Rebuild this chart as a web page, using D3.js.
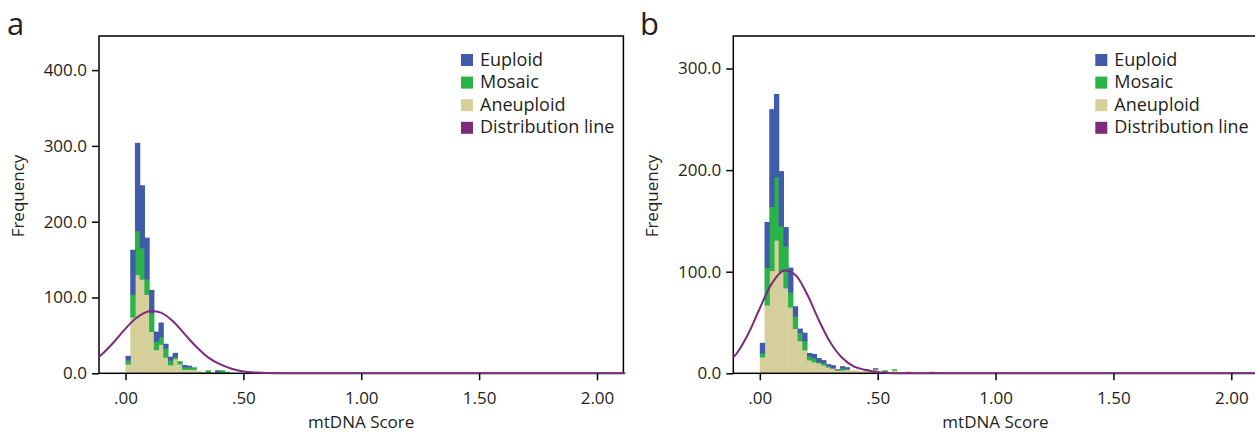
<!DOCTYPE html>
<html lang="en">
<head>
    <meta charset="UTF-8">
    <title>mtDNA Score histograms</title>
    <script src="https://cdn.jsdelivr.net/npm/d3@7"></script>
    <style>
        html,
        body {
            margin: 0;
            background: #fff;
        }
        text {
            font-family: "Open Sans", "DejaVu Sans", sans-serif;
            fill: #231f20;
        }
    </style>
</head>
<body>
<svg id="container"></svg>
<script>
    // bin width of both histograms
    const binWidth = 0.02;

    const seriesNames = ['Euploid', 'Mosaic', 'Aneuploid', 'Distribution line'];
    const seriesColors = ['#3f5ba9', '#2bb34a', '#d5cf9b', '#7b2a7d'];

    const xTickValues = [0, 0.5, 1, 1.5, 2];
    const xTickLabels = ['.00', '.50', '1.00', '1.50', '2.00'];

    // panel a : bin left edges and counts per group
    const aBins      = [0.00, 0.02, 0.04, 0.06, 0.08, 0.10, 0.12, 0.14, 0.16, 0.18, 0.20, 0.22, 0.24, 0.26, 0.28, 0.30, 0.32, 0.34, 0.36, 0.38, 0.40, 0.42, 0.56, 0.64];
    const aEuploid   = [6, 59, 116, 83, 55, 31, 13, 19, 6, 5, 5, 0, 3, 2, 0, 0, 0, 0, 0, 2, 0, 0, 0, 1];
    const aMosaic    = [5, 30, 58, 41, 20, 24, 11, 10, 12, 6, 3, 4, 3, 3, 3, 0, 0, 3, 0, 1, 3, 1, 2, 0];
    const aAneuploid = [12, 74, 130, 124, 104, 55, 31, 38, 21, 11, 19, 12, 5, 5, 5, 3, 2, 1, 1, 1, 1, 1, 0, 0];
    const aYTicks = [0, 100, 200, 300, 400];
    const aYLabels = ['0.0', '100.0', '200.0', '300.0', '400.0'];
    const aYMax = 445;

    // panel b
    const bBins      = [0.00, 0.02, 0.04, 0.06, 0.08, 0.10, 0.12, 0.14, 0.16, 0.18, 0.20, 0.22, 0.24, 0.26, 0.28, 0.30, 0.32, 0.34, 0.36, 0.38, 0.40, 0.42, 0.44, 0.46, 0.48, 0.52, 0.56, 0.62, 0.72];
    const bEuploid   = [10, 45, 96, 82, 54, 19, 24, 10, 4, 8, 3, 4, 4, 3, 2, 3, 1, 2, 2, 0, 0, 0, 1, 0, 1, 0, 0, 0, 0];
    const bMosaic    = [4, 37, 63, 62, 45, 41, 15, 12, 8, 9, 4, 4, 1, 2, 1, 0, 0, 2, 0, 0, 0, 0, 0, 0, 0, 3, 1, 0, 0];
    const bAneuploid = [16, 67, 101, 131, 100, 84, 65, 44, 32, 23, 13, 11, 10, 8, 6, 5, 3, 3, 4, 3, 3, 2, 3, 2, 4, 0, 3, 2, 2];
    const bYTicks = [0, 100, 200, 300];
    const bYLabels = ['0.0', '100.0', '200.0', '300.0'];
    const bYMax = 332;

    // distribution lines
    const curveX = [-0.1125, -0.10, -0.05, 0.00, 0.05, 0.10, 0.15, 0.20, 0.25, 0.30, 0.35, 0.40, 0.45, 0.50, 0.55, 0.60, 0.70, 0.80, 2.12];
    const aCurve = [22, 25, 41, 59, 74, 82, 80, 69, 52, 35, 21, 12, 6, 2.5, 1, 0.4, 0, 0, 0];
    const bCurve = [16, 19, 38.5, 64, 88, 101, 97, 78, 52.5, 30, 15, 6.5, 3.3, 1.2, 0.4, 0.1, 0, 0, 0];

    const width = 1255, height = 434;
    const svg = d3.select('#container')
        .attr('width', width)
        .attr('height', height);

    const plotTop = 36, plotBottom = 373.3;
    const xDomain = [-0.1125, 2.112];

    function drawPanel(opt) {
        const x = d3.scaleLinear().domain(xDomain).range([opt.left, opt.left + 524.4]);
        const y = d3.scaleLinear().domain([0, opt.yMax]).range([plotBottom, plotTop]);

        const table = opt.bins.map((b, i) => ({
            bin: b,
            Aneuploid: opt.aneuploid[i],
            Mosaic: opt.mosaic[i],
            Euploid: opt.euploid[i]
        }));
        const stack = d3.stack().keys(['Aneuploid', 'Mosaic', 'Euploid'])(table);
        const color = d3.scaleOrdinal().domain(seriesNames).range(seriesColors);

        const g = svg.append('g');

        // bars; a hair wider so neighbours don't show a seam
        g.selectAll('g.layer')
            .data(stack)
            .join('g')
            .attr('class', 'layer')
            .attr('fill', d => color(d.key))
            .selectAll('rect')
            .data(d => d.filter(s => s[1] > s[0]))
            .join('rect')
            .attr('x', d => x(d.data.bin))
            .attr('width', d => x(d.data.bin + binWidth) - x(d.data.bin) + 0.6)
            .attr('y', d => y(d[1]))
            .attr('height', d => y(d[0]) - y(d[1]) + 0.4);

        // frame
        g.append('rect')
            .attr('x', x(xDomain[0]))
            .attr('y', plotTop)
            .attr('width', x(xDomain[1]) - x(xDomain[0]))
            .attr('height', plotBottom - plotTop)
            .attr('fill', 'none')
            .attr('stroke', '#000')
            .attr('stroke-width', 1.5);

        // distribution line
        const line = d3.line()
            .x((d, i) => x(curveX[i]))
            .y(d => y(d))
            .curve(d3.curveCatmullRom.alpha(0.5));
        g.append('path')
            .datum(opt.curve)
            .attr('d', line)
            .attr('fill', 'none')
            .attr('stroke', color('Distribution line'))
            .attr('stroke-width', 2);

        const yAxis = d3.axisLeft(y)
            .tickValues(opt.yTicks)
            .tickFormat((d, i) => opt.yLabels[i])
            .tickSize(7)
            .tickSizeOuter(0)
            .tickPadding(5);
        const ya = g.append('g').attr('transform', `translate(${x(xDomain[0])},0)`).call(yAxis);
        ya.select('.domain').remove();

        const xAxis = d3.axisBottom(x)
            .tickValues(xTickValues)
            .tickFormat((d, i) => xTickLabels[i])
            .tickSize(7)
            .tickSizeOuter(0)
            .tickPadding(12);
        const xa = g.append('g').attr('transform', `translate(0,${plotBottom})`).call(xAxis);
        xa.select('.domain').remove();

        g.selectAll('.tick line').attr('stroke', '#000').attr('stroke-width', 1.5);
        g.selectAll('.tick text').attr('font-size', 17).attr('font-family', null).attr('fill', '#231f20');

        g.append('text')
            .attr('transform', `translate(${x(xDomain[0]) - 75},196) rotate(-90)`)
            .attr('text-anchor', 'middle')
            .attr('font-size', 17)
            .text('Frequency');

        g.append('text')
            .attr('x', (x(xDomain[0]) + x(xDomain[1])) / 2)
            .attr('y', 428)
            .attr('text-anchor', 'middle')
            .attr('font-size', 17)
            .text('mtDNA Score');

        g.append('text')
            .attr('x', opt.labelX)
            .attr('y', 35)
            .attr('font-size', 31)
            .text(opt.label);

        // legend
        const lg = g.append('g').attr('transform', `translate(${x(xDomain[0]) + 362},54)`);
        const rows = lg.selectAll('g')
            .data(seriesNames)
            .join('g')
            .attr('transform', (d, i) => `translate(0,${i * 22.6})`);
        rows.append('rect')
            .attr('width', 12)
            .attr('height', 12)
            .attr('fill', d => color(d));
        rows.append('text')
            .attr('x', 19)
            .attr('y', 11.5)
            .attr('font-size', 18)
            .text(d => d);
    }

    drawPanel({
        left: 99, label: 'a', labelX: 7,
        bins: aBins, euploid: aEuploid, mosaic: aMosaic, aneuploid: aAneuploid,
        curve: aCurve, yTicks: aYTicks, yLabels: aYLabels, yMax: aYMax
    });
    drawPanel({
        left: 733.3, label: 'b', labelX: 640,
        bins: bBins, euploid: bEuploid, mosaic: bMosaic, aneuploid: bAneuploid,
        curve: bCurve, yTicks: bYTicks, yLabels: bYLabels, yMax: bYMax
    });
</script>
</body>
</html>
